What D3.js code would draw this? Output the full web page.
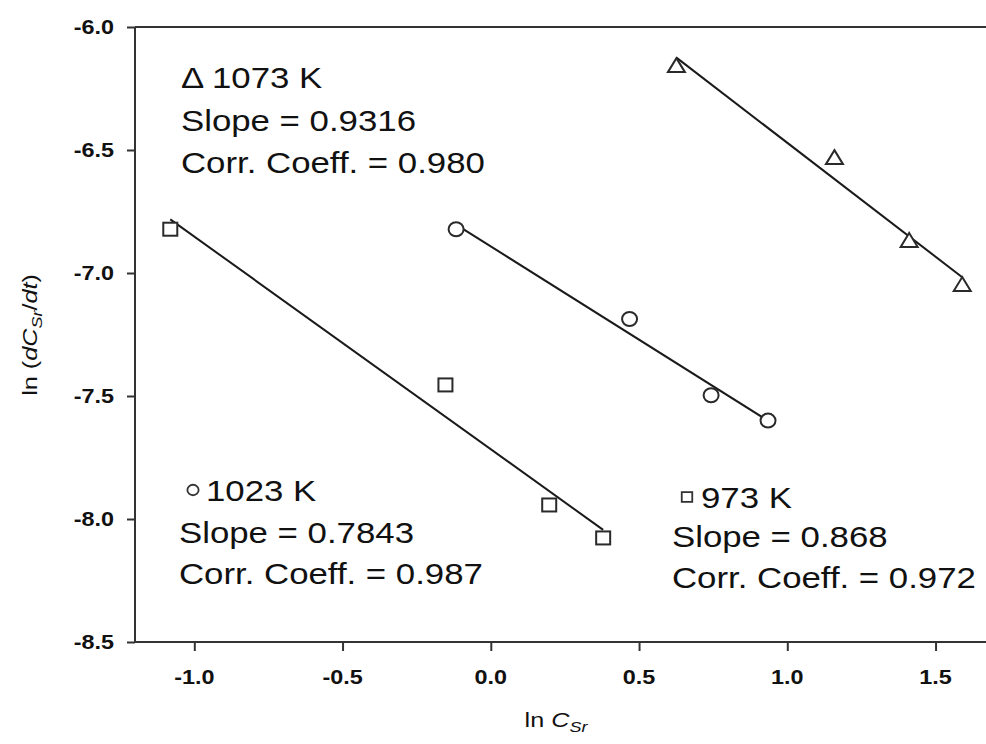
<!DOCTYPE html>
<html>
<head>
<meta charset="utf-8">
<script src="https://cdn.jsdelivr.net/npm/d3@7"></script>
<style>
  body { margin: 0; background: #fff; }
  text { font-family: "Liberation Sans", Arial, sans-serif; fill: #111; }
</style>
</head>
<body>
<script>
// data: ln C_Sr vs ln (dC_Sr/dt)
const x1073 = [0.626, 1.159, 1.411, 1.590];
const y1073 = [-6.159, -6.533, -6.870, -7.049];
const x1023 = [-0.117, 0.468, 0.743, 0.935];
const y1023 = [-6.822, -7.187, -7.497, -7.600];
const x973 = [-1.081, -0.153, 0.197, 0.379];
const y973 = [-6.822, -7.455, -7.943, -8.077];

const xTicks = [-1.0, -0.5, 0.0, 0.5, 1.0, 1.5];
const yTicks = [-6.0, -6.5, -7.0, -7.5, -8.0, -8.5];

const width = 986;
const height = 744;
const stretch = 1.2; // the picture is a bit wider than tall
const fmt = (d) => d.toFixed(1); // plain hyphen, like the original

const svg = d3
  .select("body")
  .append("svg")
  .attr("width", width)
  .attr("height", height);

const x = d3.scaleLinear().domain([-1.2, 1.7]).range([135, 135 + 2.9 * 296.5]);
const y = d3.scaleLinear().domain([-8.5, -6.0]).range([642, 27]);

//Axes
svg
  .append("g")
  .attr("transform", "translate(0,642)")
  .call(d3.axisBottom(x).tickValues(xTicks).tickSize(9))
  .call((g) => g.select(".domain").attr("d", "M135,0H" + width))
  .call((g) => g.selectAll("text").remove());

svg
  .append("g")
  .attr("transform", "translate(135,0)")
  .call(d3.axisLeft(y).tickValues(yTicks).tickSize(8))
  .call((g) => g.select(".domain").attr("d", "M0,642V27"))
  .call((g) => g.selectAll("text").remove());

svg
  .selectAll(".domain, .tick line")
  .attr("stroke", "#333")
  .attr("stroke-width", 2);

//Top frame line
svg
  .append("line")
  .attr("x1", 135)
  .attr("x2", width)
  .attr("y1", y(-6.0))
  .attr("y2", y(-6.0))
  .attr("stroke", "#333")
  .attr("stroke-width", 2);

//Tick labels (stretched text)
svg
  .selectAll(".xlab")
  .data(xTicks)
  .enter()
  .append("text")
  .attr("class", "xlab")
  .attr("transform", (d) => "translate(" + x(d) + ",684) scale(" + stretch + ",1)")
  .attr("text-anchor", "middle")
  .attr("font-size", 19.5)
  .attr("font-weight", "bold")
  .attr("fill", "#222")
  .text(fmt);

svg
  .selectAll(".ylab")
  .data(yTicks)
  .enter()
  .append("text")
  .attr("class", "ylab")
  .attr("transform", (d) => "translate(114," + (y(d) + 7) + ") scale(" + stretch + ",1)")
  .attr("text-anchor", "end")
  .attr("font-size", 19.5)
  .attr("font-weight", "bold")
  .attr("fill", "#222")
  .text(fmt);

//Axis titles
const xTitle = svg
  .append("text")
  .attr("transform", "translate(556,727) scale(" + stretch + ",1)")
  .attr("text-anchor", "middle")
  .attr("font-size", 21)
  .attr("fill", "#333");
xTitle.append("tspan").text("ln ");
xTitle.append("tspan").attr("font-style", "italic").text("C");
xTitle.append("tspan").attr("font-style", "italic").attr("font-size", 15).attr("dy", 5).text("Sr");

const yTitle = svg
  .append("text")
  .attr("transform", "translate(37,335) rotate(-90) scale(" + stretch + ",1)")
  .attr("text-anchor", "middle")
  .attr("font-size", 21)
  .attr("fill", "#333");
yTitle.append("tspan").text("ln (");
yTitle.append("tspan").attr("font-style", "italic").text("dC");
yTitle.append("tspan").attr("font-style", "italic").attr("font-size", 15).attr("dy", 5).text("Sr");
yTitle.append("tspan").attr("dy", -5).text("/");
yTitle.append("tspan").attr("font-style", "italic").text("dt");
yTitle.append("tspan").text(")");

//Fit lines (least squares of each series)
function fit(xs, ys) {
  const mx = d3.mean(xs);
  const my = d3.mean(ys);
  const b =
    d3.sum(xs, (v, i) => (v - mx) * (ys[i] - my)) / d3.sum(xs, (v) => (v - mx) * (v - mx));
  const a = my - b * mx;
  const [x0, x1] = d3.extent(xs);
  return [
    [x0, a + b * x0],
    [x1, a + b * x1],
  ];
}

const series = [
  { xs: x1073, ys: y1073, shape: "triangle" },
  { xs: x1023, ys: y1023, shape: "circle" },
  { xs: x973, ys: y973, shape: "square" },
];

const line = d3
  .line()
  .x((d) => x(d[0]))
  .y((d) => y(d[1]));

series.forEach((s) => {
  svg
    .append("path")
    .attr("d", line(fit(s.xs, s.ys)))
    .attr("fill", "none")
    .attr("stroke", "#1a1a1a")
    .attr("stroke-width", 2);
});

//Markers
function marker(g, shape, cx, cy, k) {
  if (shape === "circle") {
    g.append("ellipse")
      .attr("cx", cx)
      .attr("cy", cy)
      .attr("rx", 7.5 * k)
      .attr("ry", 7 * k);
  } else if (shape === "square") {
    g.append("rect")
      .attr("x", cx - 7 * k)
      .attr("y", cy - 6.5 * k)
      .attr("width", 14 * k)
      .attr("height", 13 * k);
  } else {
    g.append("path").attr(
      "d",
      "M" + cx + "," + (cy - 8 * k) + "L" + (cx + 8.5 * k) + "," + (cy + 6 * k) + "L" + (cx - 8.5 * k) + "," + (cy + 6 * k) + "Z"
    );
  }
}

const markers = svg
  .append("g")
  .attr("fill", "#fff")
  .attr("stroke", "#2a2a2a")
  .attr("stroke-width", 2);

series.forEach((s) => {
  s.xs.forEach((v, i) => marker(markers, s.shape, x(v), y(s.ys[i]), 1));
});

//Annotations
function note(lines, left, baselines) {
  lines.forEach((t, i) => {
    svg
      .append("text")
      .attr("transform", "translate(" + left[i] + "," + baselines[i] + ") scale(" + stretch + ",1)")
      .attr("font-size", 29)
      .text(t);
  });
}

note(["\u0394 1073 K", "Slope = 0.9316", "Corr. Coeff. = 0.980"], [181, 181, 181], [88, 131, 173]);
note(["1023 K", "Slope = 0.7843", "Corr. Coeff. = 0.987"], [206, 179, 179], [501, 543, 584]);
note(["973 K", "Slope = 0.868", "Corr. Coeff. = 0.972"], [701, 672, 672], [508, 547, 588]);

const legendMarks = svg
  .append("g")
  .attr("fill", "#fff")
  .attr("stroke", "#333")
  .attr("stroke-width", 1.8);
marker(legendMarks, "circle", 193, 490, 0.75);
marker(legendMarks, "square", 687, 497, 0.75);
</script>
</body>
</html>
